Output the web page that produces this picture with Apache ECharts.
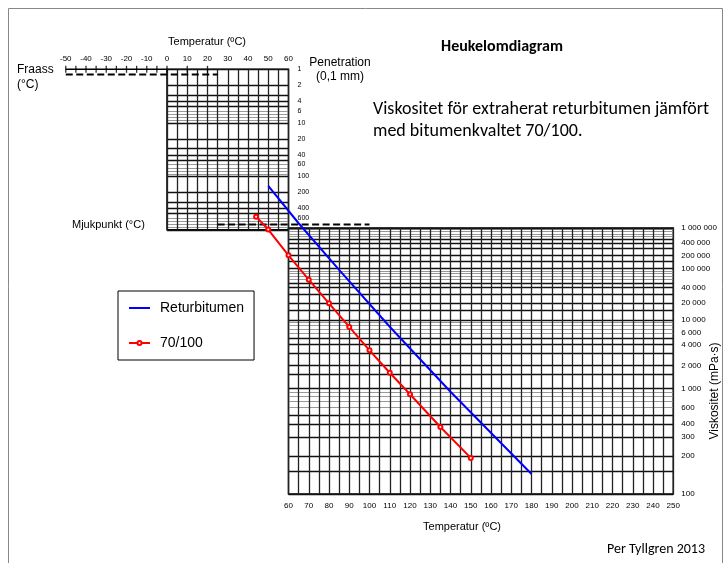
<!DOCTYPE html>
<html><head><meta charset="utf-8">
<script src="https://cdn.jsdelivr.net/npm/echarts@6/dist/echarts.min.js"></script>
<style>html,body{margin:0;padding:0;background:#fff}#c{width:724px;height:563px}</style>
</head><body><div id="c"></div>
<script>
// ---------------- data ----------------
const topTempLabels = [-50, -40, -30, -20, -10, 0, 10, 20, 30, 40, 50, 60];
const lowTempLabels = [60, 70, 80, 90, 100, 110, 120, 130, 140, 150, 160, 170, 180, 190, 200, 210, 220, 230, 240, 250];
const penLabels = [1, 2, 4, 6, 10, 20, 40, 60, 100, 200, 400, 600];
const penMajor = [1, 2, 3, 4, 5, 10, 20, 30, 40, 50, 100, 200, 300, 400, 500, 1000];
const penMinor = [6, 7, 8, 9, 60, 70, 80, 90, 600, 700, 800, 900];
const viscLabels = [1000000, 400000, 200000, 100000, 40000, 20000, 10000, 6000, 4000, 2000, 1000, 600, 400, 300, 200, 100];
const viscMajor = [100, 150, 200, 300, 400, 500, 1000, 1500, 2000, 3000, 4000, 5000, 10000, 15000, 20000, 30000, 40000, 50000,
                   100000, 150000, 200000, 300000, 400000, 500000, 1000000];
const viscMinor = [600, 700, 800, 900, 6000, 7000, 8000, 9000, 60000, 70000, 80000, 90000, 600000, 700000, 800000, 900000];
const fraassLineTemp = [-50, 0];
const fraassTicks = [-50, -45, -40, -35, -30, -25, -20, -15, -10, -5, 0, 10, 20];
const fraassDashTemp = [-50, 25];
const fraassDashPen = 1.25;
const mjukDashTemp = [25, 100];
const mjukDashPen = 800;
// Returbitumen (blue)
const returTemp = [50, 65, 85, 110, 140, 180];
const returVisc = [18600000, 1350000, 94000, 7660, 918, 142];
// 70/100 (red)
const r70Temp = [44, 50, 60, 70, 80, 90, 100, 110, 120, 135, 150];
const r70Visc = [2070000, 910000, 203000, 58000, 19800, 7600, 3270, 1590, 855, 375, 193];

// ---------------- geometry ----------------
const X0 = 167, S = 2.025;              // px of 0 degC, px per degC
const xpx = t => X0 + S * t;
const PEN_TOP = 69.3, PEN_DEC = 53.5;    // penetration log scale
const VIS_TOP = 228, VIS_BOT = 494;      // viscosity scale
const C = 0.55;
const g = v => Math.log10(Math.log10(v) - C);
const gHi = g(1e6), gLo = g(100);
const gpx = (VIS_BOT - VIS_TOP) / (gHi - gLo);
const gTop = gHi + (VIS_TOP - PEN_TOP) / gpx;
const lg = Math.log10;

const AX = '"Liberation Sans", Arial, sans-serif';
const CAL = 'Carlito, Lato, "Open Sans", sans-serif';
const fmtSp = n => String(n).replace(/\B(?=(\d{3})+(?!\d))/g, ' ');
const viscFmt = v => {
  let best = viscLabels[0], bd = Infinity;
  for (const l of viscLabels) { const d = Math.abs(g(l) - v); if (d < bd) { bd = d; best = l; } }
  return fmtSp(best);
};
const hidden = {show: false};

const chart = echarts.init(document.getElementById('c'), null, {renderer: 'canvas'});
chart.setOption({
  animation: false,
  backgroundColor: '#fff',
  grid: [
    {left: xpx(-50), top: PEN_TOP, width: S * 150, height: PEN_DEC * 3, outerBoundsMode: 'none'},
    {left: xpx(0), top: PEN_TOP, width: S * 60, height: PEN_DEC * 3, show: true, borderColor: '#000', borderWidth: 1.5, outerBoundsMode: 'none'},
    {left: xpx(60), top: VIS_TOP, width: S * 190, height: VIS_BOT - VIS_TOP, show: true, borderColor: '#000', borderWidth: 1.5, outerBoundsMode: 'none'},
    {left: xpx(-50), top: PEN_TOP, width: S * 300, height: VIS_BOT - PEN_TOP, outerBoundsMode: 'none'}
  ],
  xAxis: [
    {gridIndex: 0, type: 'value', position: 'top', min: -50, max: 100, interval: 10,
     axisLine: hidden, axisTick: hidden, splitLine: hidden,
     axisLabel: {customValues: topTempLabels, fontSize: 8, margin: 7, color: '#000', fontFamily: AX}},
    {gridIndex: 1, type: 'value', min: 0, max: 60, interval: 5,
     axisLine: hidden, axisTick: hidden, axisLabel: hidden,
     splitLine: {show: true, lineStyle: {color: '#222', width: 1.3}}},
    {gridIndex: 2, type: 'value', min: 60, max: 250, interval: 5,
     axisLine: hidden, axisTick: hidden,
     axisLabel: {customValues: lowTempLabels, fontSize: 8, margin: 8, color: '#000', fontFamily: AX},
     splitLine: {show: true, lineStyle: {color: '#222', width: 1.3}}},
    {gridIndex: 3, type: 'value', min: -50, max: 250, show: false}
  ],
  yAxis: [
    {gridIndex: 0, type: 'value', min: 0, max: 3, inverse: true, show: false},
    {gridIndex: 1, type: 'value', min: 0, max: 3, inverse: true, position: 'right',
     axisLine: hidden, axisTick: {show: false, customValues: penMinor.map(lg)}, axisLabel: hidden,
     splitLine: {show: true, lineStyle: {color: '#999', width: 1}}},
    {gridIndex: 1, type: 'value', min: 0, max: 3, inverse: true, position: 'right',
     axisLine: hidden, axisTick: {show: false, customValues: penMajor.map(lg)},
     axisLabel: {customValues: penLabels.map(lg), formatter: v => String(Math.round(Math.pow(10, v))),
                 fontSize: 7, margin: 9, color: '#000', fontFamily: AX},
     splitLine: {show: true, lineStyle: {color: '#111', width: 1.3}}},
    {gridIndex: 2, type: 'value', min: gLo, max: gHi, position: 'right',
     axisLine: hidden, axisTick: {show: false, customValues: viscMinor.map(g)}, axisLabel: hidden,
     splitLine: {show: true, lineStyle: {color: '#999', width: 1}}},
    {gridIndex: 2, type: 'value', min: gLo, max: gHi, position: 'right',
     axisLine: hidden, axisTick: {show: false, customValues: viscMajor.map(g)},
     axisLabel: {customValues: viscLabels.map(g), formatter: viscFmt, fontSize: 8, margin: 8, color: '#000', fontFamily: AX},
     splitLine: {show: true, lineStyle: {color: '#111', width: 1.3}}},
    {gridIndex: 3, type: 'value', min: gLo, max: gTop, show: false}
  ],
  legend: {
    left: 118, top: 291, orient: 'vertical', itemWidth: 21, itemHeight: 5, itemGap: 21,
    padding: [10, 10, 10, 10], borderColor: '#000', borderWidth: 1, selectedMode: false,
    textStyle: {fontSize: 14, fontFamily: AX, color: '#000', padding: [0, 0, 0, 5]},
    data: [{name: 'Returbitumen', icon: 'path://M0,0H21V2H0Z'}, {name: '70/100'}]
  },
  series: [
    {type: 'line', xAxisIndex: 0, yAxisIndex: 0, silent: true, clip: false, symbol: 'none',
     data: fraassLineTemp.map(t => [t, 0]), lineStyle: {color: '#000', width: 1.5}},
    {type: 'scatter', xAxisIndex: 0, yAxisIndex: 0, silent: true, clip: false,
     data: fraassTicks.map(t => [t, 0]), symbol: 'rect', symbolSize: [1.3, 7], itemStyle: {color: '#000'}},
    {type: 'line', xAxisIndex: 0, yAxisIndex: 0, silent: true, clip: false, symbol: 'none',
     data: fraassDashTemp.map(t => [t, lg(fraassDashPen)]),
     lineStyle: {color: '#000', width: 2, type: [7, 3.5]}},
    {type: 'line', xAxisIndex: 0, yAxisIndex: 0, silent: true, clip: false, symbol: 'none',
     data: mjukDashTemp.map(t => [t, lg(mjukDashPen)]),
     lineStyle: {color: '#000', width: 2, type: [7, 3.5]}},
    {type: 'line', name: 'Returbitumen', xAxisIndex: 3, yAxisIndex: 5, symbol: 'none',
     data: returTemp.map((t, i) => [t, g(returVisc[i])]),
     lineStyle: {color: '#0000ff', width: 2}, itemStyle: {color: '#0000ff'}},
    {type: 'line', name: '70/100', xAxisIndex: 3, yAxisIndex: 5, symbol: 'emptyCircle', symbolSize: 4,
     data: r70Temp.map((t, i) => [t, g(r70Visc[i])]),
     lineStyle: {color: '#ff0000', width: 2}, itemStyle: {color: '#ff0000', borderColor: '#ff0000', borderWidth: 1}}
  ],
  graphic: [
    {type: 'rect', shape: {x: 8.5, y: 8.5, width: 714, height: 560}, style: {fill: 'none', stroke: '#888', lineWidth: 1}, silent: true},
    {type: 'text', x: 207, y: 42, style: {text: 'Temperatur (ºC)', font: '11px ' + AX, fill: '#000', align: 'center', verticalAlign: 'middle'}},
    {type: 'text', x: 17, y: 70, style: {text: 'Fraass', font: '12px ' + AX, fill: '#000', align: 'left', verticalAlign: 'middle'}},
    {type: 'text', x: 17, y: 85, style: {text: '(°C)', font: '12px ' + AX, fill: '#000', align: 'left', verticalAlign: 'middle'}},
    {type: 'text', x: 340, y: 63, style: {text: 'Penetration', font: '12px ' + AX, fill: '#000', align: 'center', verticalAlign: 'middle'}},
    {type: 'text', x: 340, y: 77, style: {text: '(0,1 mm)', font: '12px ' + AX, fill: '#000', align: 'center', verticalAlign: 'middle'}},
    {type: 'text', x: 72, y: 224.5, style: {text: 'Mjukpunkt (°C)', font: '11px ' + AX, fill: '#000', align: 'left', verticalAlign: 'middle'}},
    {type: 'text', x: 502, y: 47, style: {text: 'Heukelomdiagram', font: 'bold 16px ' + CAL, fill: '#000', align: 'center', verticalAlign: 'middle'}},
    {type: 'text', x: 373, y: 109, style: {text: 'Viskositet för extraherat returbitumen jämfört', font: '18px ' + CAL, fill: '#000', align: 'left', verticalAlign: 'middle'}},
    {type: 'text', x: 373, y: 131, style: {text: 'med bitumenkvaltet 70/100.', font: '18px ' + CAL, fill: '#000', align: 'left', verticalAlign: 'middle'}},
    {type: 'text', x: 462, y: 527, style: {text: 'Temperatur (ºC)', font: '11px ' + AX, fill: '#000', align: 'center', verticalAlign: 'middle'}},
    {type: 'text', x: 715, y: 391, rotation: Math.PI / 2, style: {text: 'Viskositet (mPa·s)', font: '12px ' + AX, fill: '#000', align: 'center', verticalAlign: 'middle'}},
    {type: 'text', x: 656, y: 549, style: {text: 'Per Tyllgren 2013', font: '14px ' + CAL, fill: '#000', align: 'center', verticalAlign: 'middle'}}
  ]
});
</script></body></html>
